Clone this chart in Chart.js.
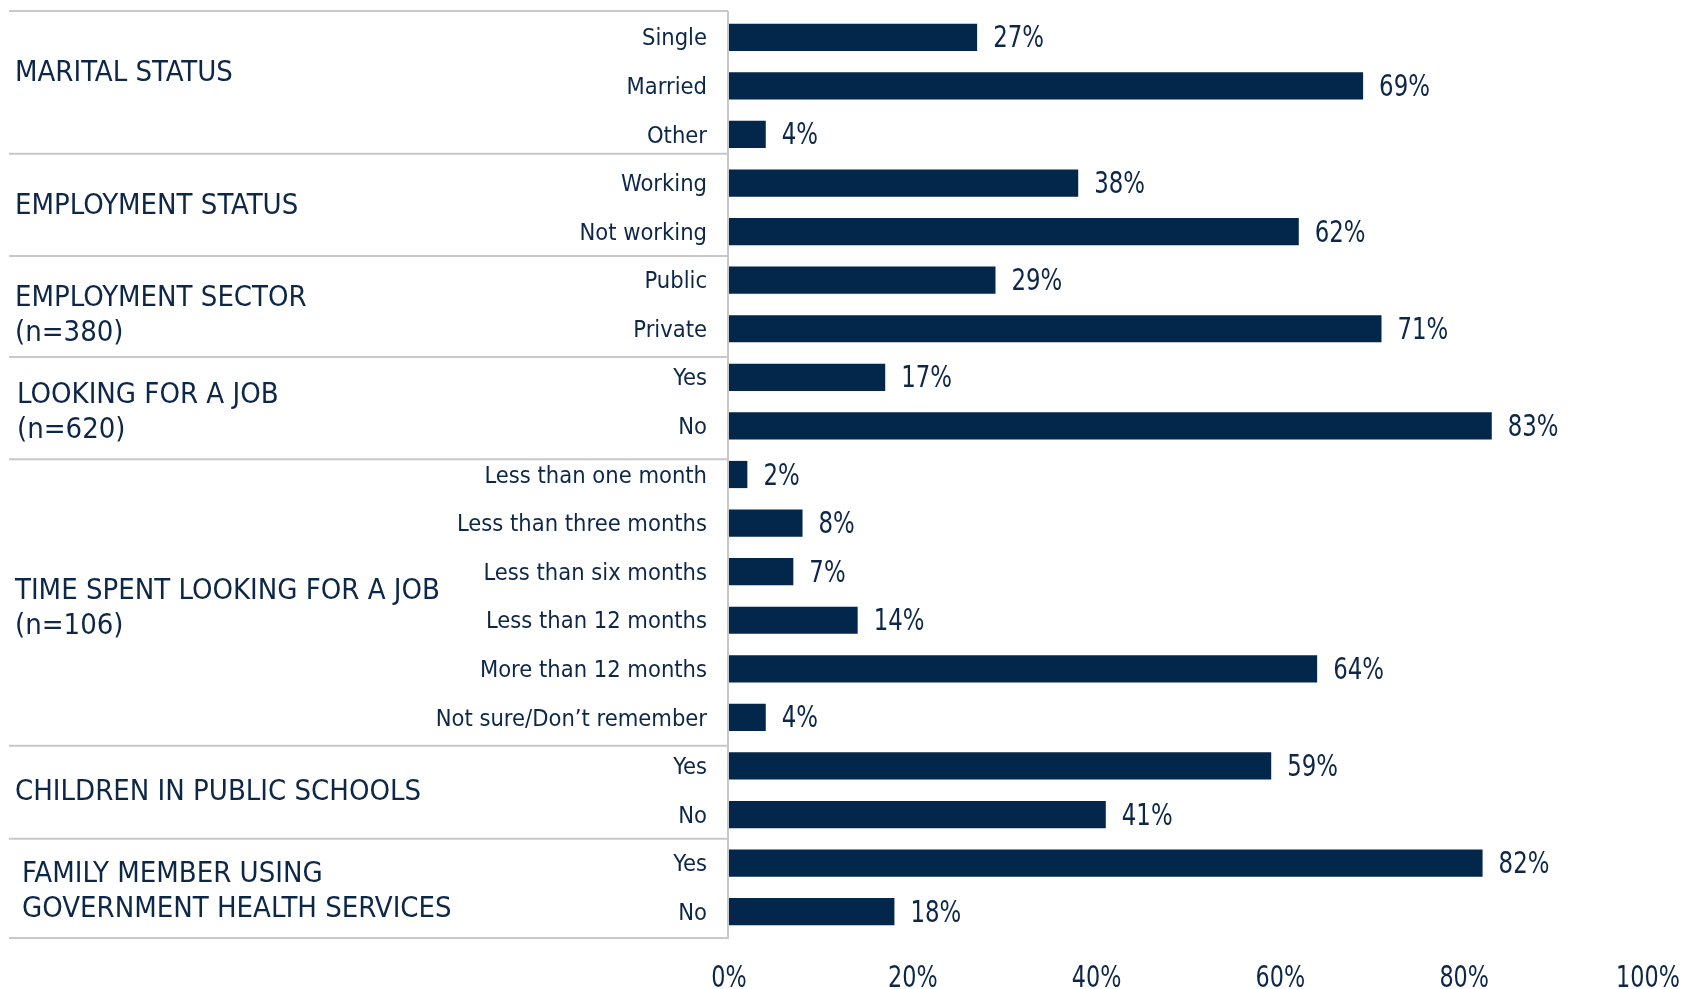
<!DOCTYPE html>
<html>
<head>
<meta charset="utf-8">
<script src="https://cdn.jsdelivr.net/npm/chart.js@4.4.1/dist/chart.umd.min.js"></script>
<style>
  html, body { margin: 0; padding: 0; background: #ffffff; }
  #wrap { width: 1688px; height: 989px; position: relative; }
</style>
</head>
<body>
<div id="wrap"><canvas id="profileChart"></canvas></div>
<script>
// answers per row, top to bottom
const categories = [
  "Single", "Married", "Other",
  "Working", "Not working",
  "Public", "Private",
  "Yes", "No",
  "Less than one month", "Less than three months", "Less than six months",
  "Less than 12 months", "More than 12 months", "Not sure/Don\u2019t remember",
  "Yes", "No",
  "Yes", "No"
];
const values = [27, 69, 4, 38, 62, 29, 71, 17, 83, 2, 8, 7, 14, 64, 4, 59, 41, 82, 18];

// question groups on the left and how many rows each one covers
const groupTitles = [
  ["MARITAL STATUS"],
  ["EMPLOYMENT STATUS"],
  ["EMPLOYMENT SECTOR", "(n=380)"],
  ["LOOKING FOR A JOB", "(n=620)"],
  ["TIME SPENT LOOKING FOR A JOB", "(n=106)"],
  ["CHILDREN IN PUBLIC SCHOOLS"],
  ["FAMILY MEMBER USING", "GOVERNMENT HEALTH SERVICES"]
];
const groupSizes = [3, 2, 2, 2, 6, 2, 2];

const xTicks = [0, 20, 40, 60, 80, 100];

const NAVY = "#03264b";
const TEXT = "#0c2748";
const RULE = "#c8c8c8";
const FONT = "'DejaVu Sans Condensed', 'DejaVu Sans', sans-serif";

// small nudges for the group titles (x, dy from group centre)
const titleNudge = [[15, -12], [15, -1], [15, 11], [17, 11], [15, 13], [15, 2], [22, 5]];
// the table rules don't sit exactly on the row boundaries
const ruleNudge = [-2, -5, 0, 4, 9, 4, 0, 2];

// draws narrow, tall numbers (squeezed horizontally)
function narrowText(ctx, text, x, y, size, squeeze, align) {
  ctx.save();
  ctx.font = size + "px " + FONT;
  ctx.textAlign = align;
  ctx.textBaseline = "middle";
  ctx.translate(x, y);
  ctx.scale(squeeze, 1);
  ctx.fillText(text, 0, 0);
  ctx.restore();
}

const tableLines = {
  id: "tableLines",
  afterDatasetsDraw(chart) {
    const { ctx, chartArea, scales } = chart;
    const y = scales.y;
    const x = scales.x;
    const half = (y.getPixelForValue(1) - y.getPixelForValue(0)) / 2;
    const left = 9;
    const axisX = chartArea.left - 1;

    ctx.save();
    ctx.strokeStyle = RULE;
    ctx.lineWidth = 2;

    // horizontal rules at the top, bottom and between groups
    let row = 0;
    const edges = [y.getPixelForValue(0) - half];
    groupSizes.forEach(n => {
      row += n;
      edges.push(y.getPixelForValue(row - 1) + half);
    });
    edges.forEach((py, i) => {
      ctx.beginPath();
      ctx.moveTo(left, py + ruleNudge[i]);
      ctx.lineTo(axisX, py + ruleNudge[i]);
      ctx.stroke();
    });

    // vertical axis line
    ctx.beginPath();
    ctx.moveTo(axisX, edges[0] + ruleNudge[0]);
    ctx.lineTo(axisX, edges[edges.length - 1] + ruleNudge[edges.length - 1] + 1);
    ctx.stroke();

    // group titles
    ctx.fillStyle = TEXT;
    ctx.font = "29px " + FONT;
    ctx.textAlign = "left";
    ctx.textBaseline = "middle";
    const lh = 35;
    row = 0;
    groupTitles.forEach((lines, g) => {
      const first = y.getPixelForValue(row);
      const last = y.getPixelForValue(row + groupSizes[g] - 1);
      const mid = (first + last) / 2 + titleNudge[g][1];
      const top = mid - (lines.length - 1) * lh / 2;
      lines.forEach((t, i) => ctx.fillText(t, titleNudge[g][0], top + i * lh));
      row += groupSizes[g];
    });

    // value labels at the end of each bar
    const meta = chart.getDatasetMeta(0);
    meta.data.forEach((bar, i) => {
      narrowText(ctx, values[i] + "%", bar.x + 16, bar.y + 2, 31, 0.82, "left");
    });

    // percentage ticks under the plot
    xTicks.forEach(v => {
      narrowText(ctx, v + "%", x.getPixelForValue(v), 979, 31, 0.8, "center");
    });
    ctx.restore();
  }
};

const ctx = document.getElementById("profileChart").getContext("2d");
const profileChart = new Chart(ctx, {
  type: "bar",
  data: {
    labels: categories,
    datasets: [
      {
        data: values,
        backgroundColor: NAVY,
        borderWidth: 0,
        categoryPercentage: 1,
        barPercentage: 0.56
      }
    ]
  },
  options: {
    indexAxis: "y",
    responsive: true,
    maintainAspectRatio: false,
    animation: false,
    layout: {
      padding: { top: 13, right: 40, bottom: 0, left: 0 }
    },
    scales: {
      x: {
        min: 0,
        max: 100,
        afterBuildTicks: (scale) => {
          scale.ticks = xTicks.map(v => ({ value: v }));
        },
        afterFit: (scale) => {
          scale.height = 53;
          scale.paddingLeft = 0;
          scale.paddingRight = 0;
        },
        grid: { display: false, drawTicks: false },
        border: { display: false },
        ticks: { display: false }
      },
      y: {
        afterFit: (scale) => {
          scale.width = 729;
          scale.paddingTop = 0;
          scale.paddingBottom = 0;
        },
        grid: { display: false, drawTicks: false },
        border: { display: false },
        ticks: {
          color: TEXT,
          padding: 22,
          labelOffset: 2,
          autoSkip: false,
          font: { family: FONT, size: 23.5 }
        }
      }
    },
    plugins: {
      legend: { display: false },
      title: { display: false },
      tooltip: { enabled: false }
    }
  },
  plugins: [tableLines]
});
</script>
</body>
</html>
